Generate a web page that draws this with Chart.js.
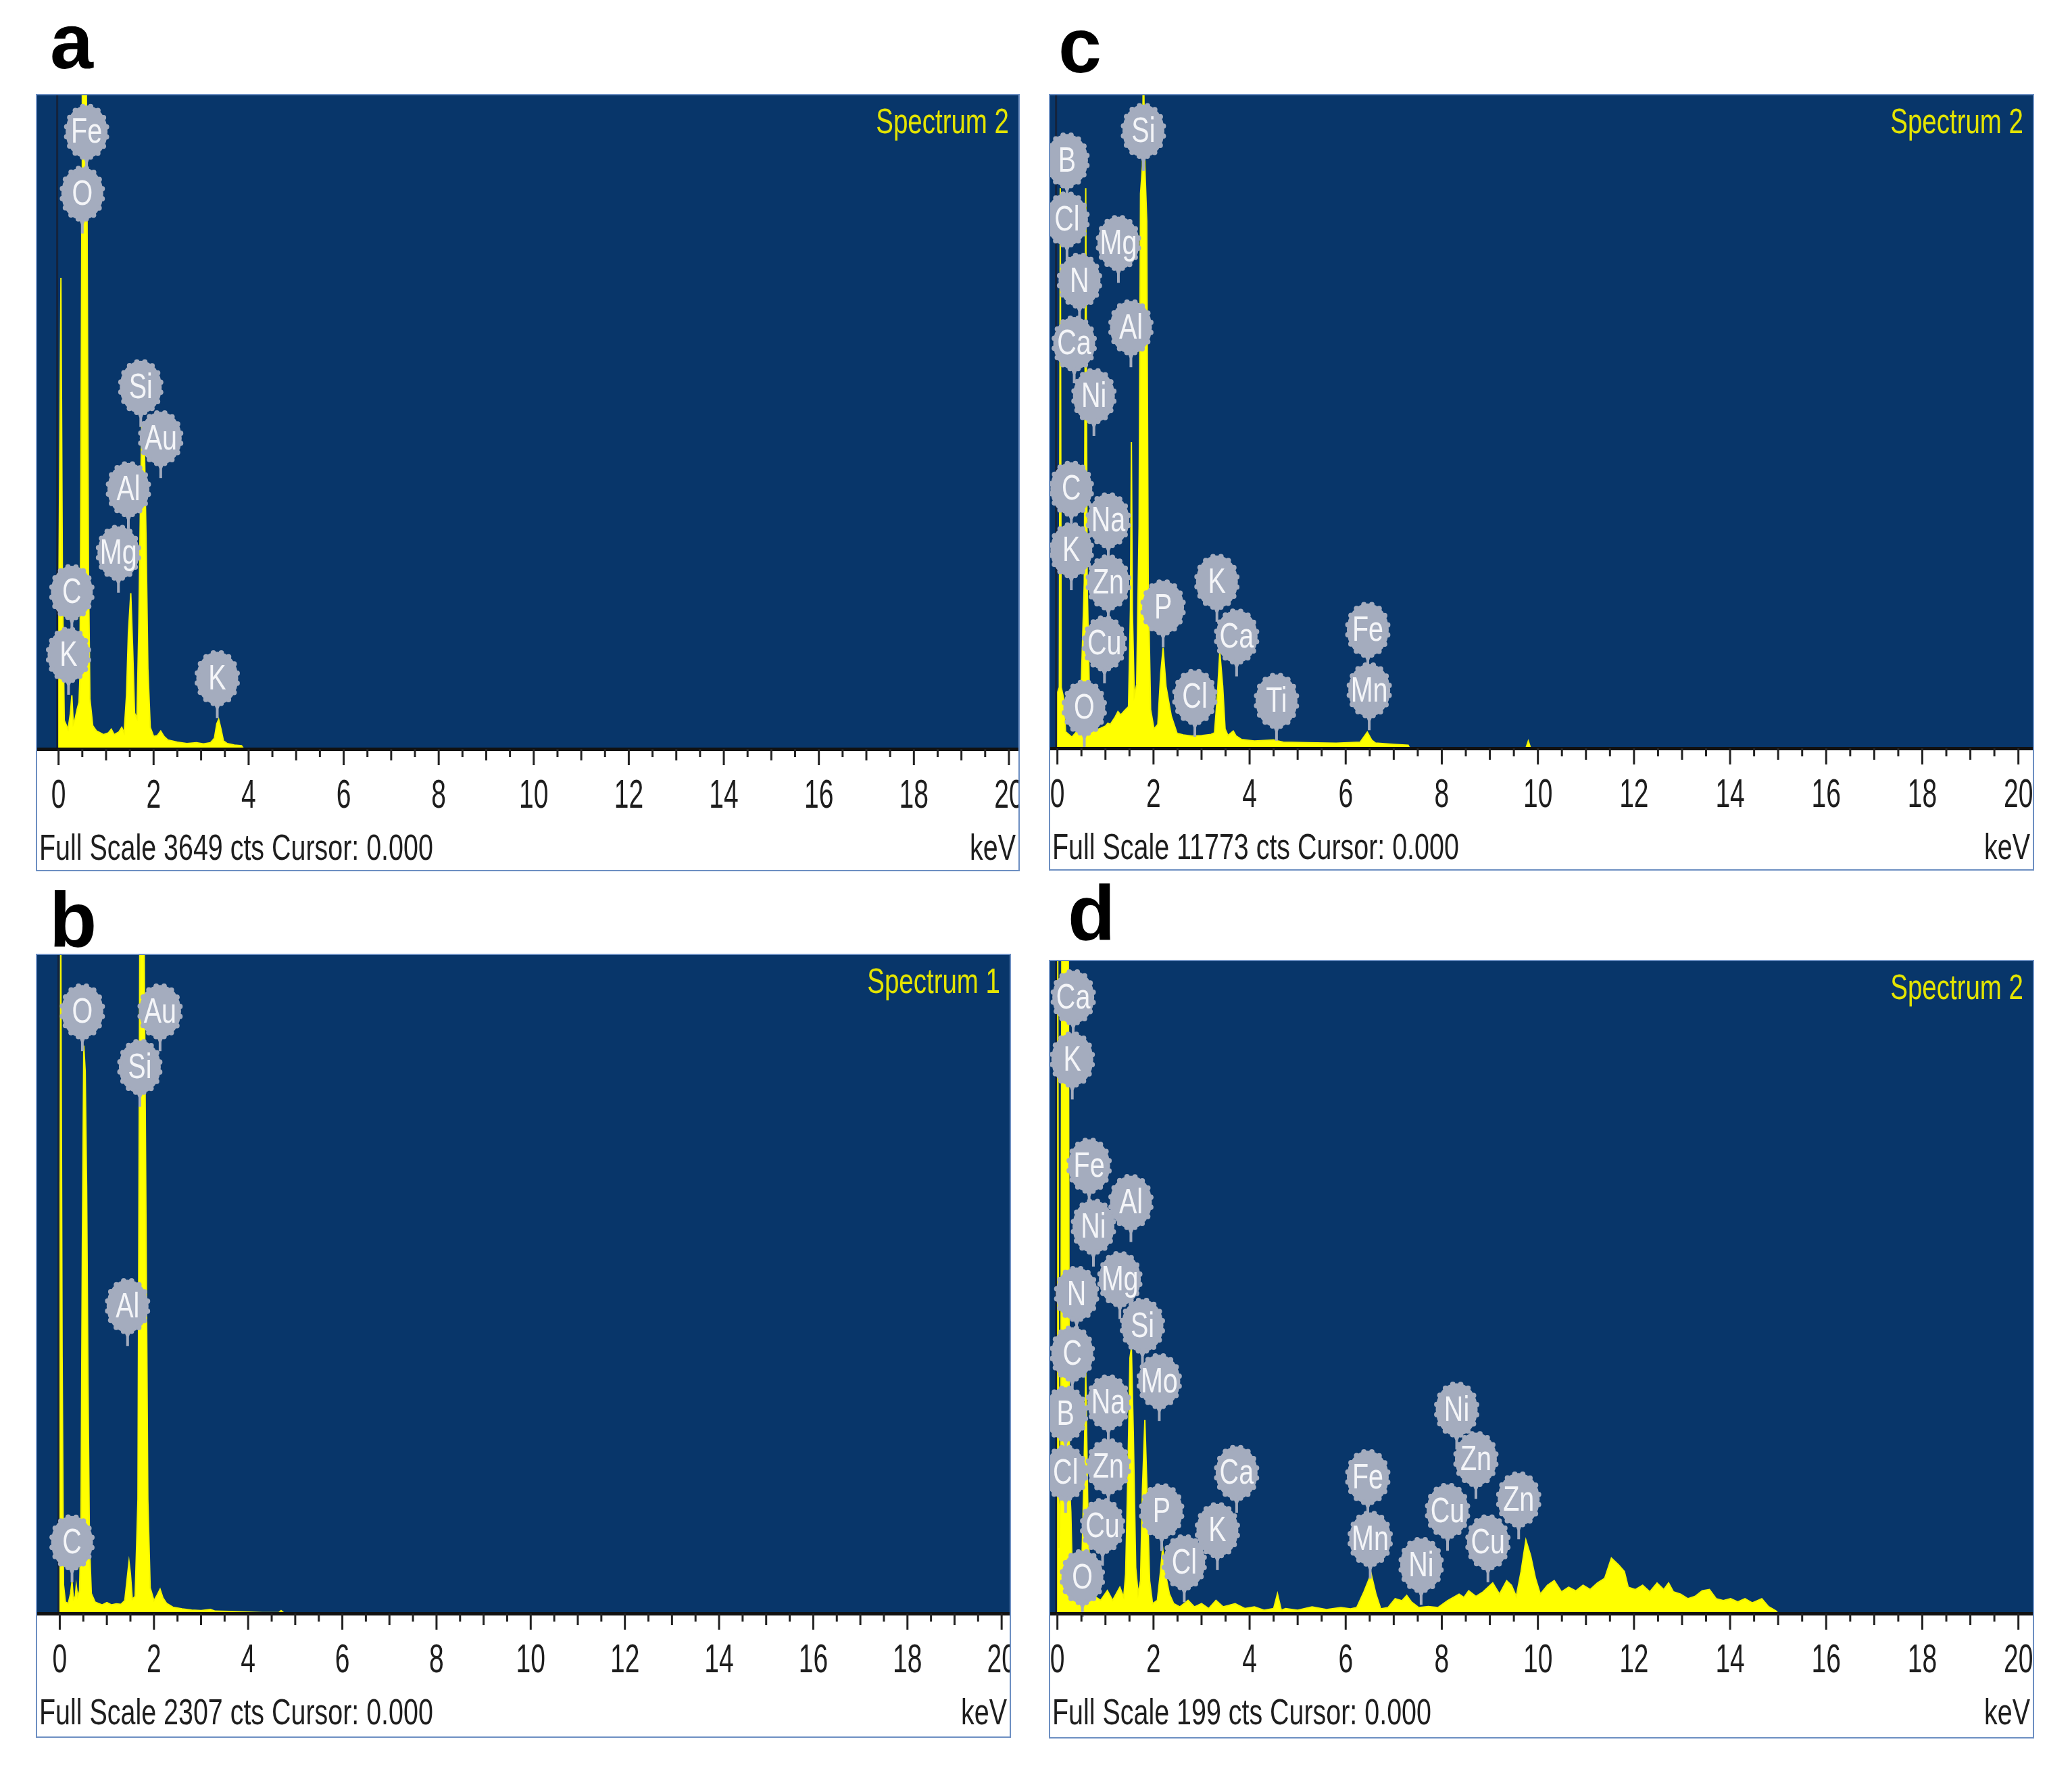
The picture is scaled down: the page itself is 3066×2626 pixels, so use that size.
<!DOCTYPE html>
<html>
<head>
<meta charset="utf-8">
<script src="https://cdn.jsdelivr.net/npm/chart.js@4.4.1/dist/chart.umd.min.js"></script>
<style>
body{margin:0;background:#fff;width:3066px;height:2626px;position:relative;overflow:hidden;font-family:"Liberation Sans",Arial,sans-serif}
.panel{position:absolute;border:2px solid #6d8fc2}
.panel canvas{display:block}
.letter{position:absolute;font-weight:bold;font-size:115px;line-height:1;color:#000}
</style>
</head>
<body>
<div class="letter" style="left:74px;top:4px">a</div>
<div class="letter" style="left:1566px;top:10px">c</div>
<div class="letter" style="left:73px;top:1304px">b</div>
<div class="letter" style="left:1580px;top:1294px">d</div>

<div class="panel" id="pa"><canvas id="ca"></canvas></div>
<div class="panel" id="pb"><canvas id="cb"></canvas></div>
<div class="panel" id="pc"><canvas id="cc"></canvas></div>
<div class="panel" id="pd"><canvas id="cd"></canvas></div>

<script>
// ---- data (keV, counts) ----
var keVTicks=[0,2,4,6,8,10,12,14,16,18,20];

// a
var energyA=[-0.02,0.02,0.05,0.08,0.12,0.2,0.25,0.28,0.31,0.35,0.39,0.43,0.45,0.47,0.49,0.5,0.58,0.6,0.63,0.66,0.72,0.8,0.95,1.05,1.11,1.17,1.27,1.33,1.38,1.43,1.47,1.52,1.56,1.6,1.65,1.69,1.72,1.75,1.8,1.84,1.88,1.93,2.0,2.08,2.15,2.22,2.3,2.5,2.7,2.9,3.05,3.2,3.28,3.33,3.37,3.42,3.47,3.55,3.7,3.85,3.9];
var countsA=[0,1400,2630,1000,160,110,200,300,140,170,220,260,400,1500,3000,4000,4000,3000,1000,280,130,100,80,90,110,80,95,120,90,300,650,870,560,200,170,700,1300,1800,1800,1200,450,120,70,75,100,70,50,38,30,35,28,35,60,140,165,110,45,30,22,18,0];
var peakNamesA=['Fe','O','Si','Au','Al','Mg','C','K','K'];
var peakKevA=[0.59,0.50,1.73,2.15,1.47,1.26,0.28,0.21,3.34];
var peakCtsA=[3445,3100,2020,1735,1450,1095,875,525,395];

// b
var energyB=[-0.02,0.0,0.02,0.05,0.08,0.12,0.18,0.23,0.26,0.29,0.33,0.35,0.38,0.42,0.45,0.48,0.51,0.54,0.57,0.6,0.63,0.67,0.75,0.9,1.0,1.1,1.2,1.3,1.38,1.43,1.47,1.5,1.54,1.6,1.66,1.7,1.79,1.83,1.87,1.92,2.0,2.07,2.13,2.19,2.27,2.4,2.6,2.8,3.0,3.2,3.3,3.6,4.0,4.3,4.65,4.7,4.75,4.8];
var countsB=[0,800,2500,900,100,40,35,70,113,50,60,98,60,80,300,1300,1990,1900,1500,800,250,70,40,30,38,30,34,32,45,120,181,140,50,60,400,2400,2400,1400,400,90,45,65,85,55,35,22,16,12,10,14,8,7,5,3,3,10,3,0];
var peakNamesB=['O','Au','Si','Al','C'];
var peakKevB=[0.48,2.13,1.70,1.44,0.26];
var peakCtsB=[2110,2110,1915,1077,249];

// c
var energyC=[-0.02,0.0,0.04,0.06,0.08,0.13,0.17,0.3,0.4,0.46,0.5,0.56,0.59,0.62,0.66,0.7,0.78,0.9,1.0,1.05,1.1,1.2,1.26,1.32,1.4,1.48,1.52,1.54,1.56,1.6,1.65,1.7,1.73,1.77,1.79,1.82,1.86,1.89,1.94,2.01,2.09,2.15,2.2,2.26,2.37,2.49,2.62,2.8,3.0,3.2,3.27,3.33,3.38,3.44,3.49,3.55,3.66,3.72,3.83,4.1,4.5,4.7,5.2,5.8,6.3,6.45,6.54,6.62,7.0,7.3,7.33,9.75,9.8,9.85];
var countsC=[0,1000,1100,10100,1100,900,300,200,300,900,1250,3000,10100,3000,1250,500,320,360,400,450,430,560,660,600,680,750,2500,5520,2500,950,1150,4000,10000,10500,12500,10500,9500,3000,700,350,430,1350,1810,1120,580,270,240,220,230,250,280,970,1740,1120,350,230,310,220,160,130,150,110,100,90,110,290,150,95,70,55,0,0,130,0];
var peakNamesC=['Si','B','Cl','Mg','N','Al','Ca','Ni','C','Na','K','Zn','K','P','Ca','Cu','Fe','Mn','Ti','Cl','O'];
var peakKevC=[1.79,0.2,0.2,1.27,0.46,1.53,0.35,0.76,0.29,1.06,0.29,1.06,3.32,2.2,3.73,0.98,6.46,6.49,4.56,2.86,0.56];
var peakCtsC=[11130,10600,9535,9110,8430,7590,7300,6350,4680,4110,3570,2990,3000,2540,2015,1890,2135,1045,855,925,730];

// d
var energyD=[-0.02,0.0,0.03,0.07,0.1,0.22,0.25,0.28,0.31,0.36,0.4,0.44,0.5,0.55,0.59,0.63,0.68,0.8,0.9,1.04,1.15,1.3,1.38,1.42,1.47,1.51,1.54,1.58,1.63,1.68,1.73,1.77,1.82,1.86,1.92,1.98,2.08,2.14,2.19,2.25,2.33,2.42,2.55,2.72,2.85,3.0,3.15,3.3,3.45,3.7,3.9,4.1,4.3,4.5,4.58,4.66,4.75,5.0,5.3,5.6,5.9,6.1,6.23,6.38,6.53,6.63,6.73,6.88,7.03,7.17,7.27,7.37,7.52,7.72,7.92,8.12,8.36,8.46,8.56,8.71,8.86,9.06,9.2,9.35,9.45,9.55,9.65,9.75,9.85,9.95,10.05,10.2,10.34,10.49,10.64,10.79,10.94,11.09,11.24,11.39,11.53,11.68,11.8,11.88,12.03,12.18,12.33,12.48,12.62,12.72,12.82,12.97,13.12,13.27,13.42,13.57,13.71,13.86,14.01,14.16,14.31,14.46,14.66,14.8,14.95,15.0];
var countsD=[0,260,20,40,260,260,40,31,12,10,18,8,10,40,74,35,8,5,4,7,4,8,5,12,45,78,81,55,14,6,10,38,59,40,10,3,4,12,20,12,6,3,2,4,2,3,1.5,4,2,3,1.5,2,1,1.5,6,1,1.5,1,2,1.2,1.8,1.4,1.8,6.6,12.1,5.9,1.4,1.8,4.5,3.9,5.5,3.5,1.8,2.1,1.8,3.9,5.9,4.9,6.9,5.2,6.6,9.3,5.9,10,8.6,5.2,12.8,22.4,17.6,10.7,5.9,8.6,10,6.6,8,6.9,8.6,7.3,9.3,10.7,16.9,14.8,12.8,8,7.3,8.6,6.6,9.3,7.3,9.3,6.6,5.9,4.5,5.2,6.9,7.3,4.5,3.9,4.5,3.5,4.5,3.2,4.5,2.1,0.8,0];
var peakNamesD=['Ca','K','Fe','Al','Ni','Mg','N','Si','C','Mo','Na','B','Zn','Cl','P','Cu','Ca','K','Cl','O','Fe','Mn','Ni','Zn','Cu','Zn','Ni','Cu'];
var peakKevD=[0.33,0.31,0.66,1.53,0.75,1.30,0.40,1.77,0.31,2.12,1.06,0.17,1.06,0.17,2.17,0.94,3.73,3.33,2.64,0.52,6.46,6.51,8.31,8.71,8.12,9.60,7.57,8.96];
var peakCtsD=[188,169,136.6,125.5,118,102,97.5,87.8,79.3,70.9,64.4,61,44.9,42.9,31.2,26.7,42.9,25.4,15.6,11.1,41.6,22.8,62.2,47.1,31.3,34.8,14.8,21.7];

var fullScaleA=3649, fullScaleB=2307, fullScaleC=11773, fullScaleD=199;

// ---- drawing helpers ----
var FONT='"Liberation Sans", Arial, sans-serif';

function squeezeText(ctx,str,x,y,size,sx,align,color,base){
    ctx.save();
    ctx.translate(x,y);
    ctx.scale(sx,1);
    ctx.font=size+'px '+FONT;
    ctx.textAlign=align;
    ctx.textBaseline=base||'alphabetic';
    ctx.fillStyle=color;
    ctx.fillText(str,0,0);
    ctx.restore();
}

function drawTag(ctx,cx,cy,name){
    var rx=31, ry=39;
    ctx.save();
    ctx.fillStyle='#a4acbe';
    ctx.beginPath();
    ctx.moveTo(cx-7,cy+ry-6);
    ctx.lineTo(cx+7,cy+ry-6);
    ctx.lineTo(cx+2,cy+ry+6);
    ctx.lineTo(cx-2,cy+ry+6);
    ctx.fill();
    ctx.fillRect(cx-2,cy+ry,4,20);
    ctx.beginPath();
    ctx.ellipse(cx,cy,rx,ry,0,0,Math.PI*2);
    ctx.fill();
    for(var i=0;i<16;i++){
        var t=i/16*Math.PI*2+0.2;
        ctx.beginPath();
        ctx.arc(cx+(rx-1)*Math.cos(t),cy+(ry-1)*Math.sin(t),4,0,Math.PI*2);
        ctx.fill();
    }
    ctx.restore();
    squeezeText(ctx,name,cx,cy+2,52,0.76,'center','#f4f5f8','middle');
}

function edsPlugin(cfg){
    return {
        id:'eds',
        beforeDraw:function(chart){
            var ctx=chart.ctx, a=chart.chartArea;
            ctx.save();
            ctx.fillStyle='#ffffff';
            ctx.fillRect(0,0,chart.width,chart.height);
            ctx.fillStyle='#08366a';
            ctx.fillRect(a.left,a.top,a.right-a.left,a.bottom-a.top);
            ctx.restore();
        },
        afterDatasetsDraw:function(chart){
            var ctx=chart.ctx, a=chart.chartArea, xs=chart.scales.x, ys=chart.scales.y;
            // cursor at 0.000
            var x0=xs.getPixelForValue(0);
            ctx.save();
            ctx.strokeStyle='#14233c';
            ctx.lineWidth=3;
            ctx.beginPath();ctx.moveTo(x0-2,a.top);ctx.lineTo(x0-2,a.bottom);ctx.stroke();
            ctx.restore();
            // element markers
            for(var i=0;i<cfg.names.length;i++){
                drawTag(ctx,xs.getPixelForValue(cfg.kev[i]),ys.getPixelForValue(cfg.cts[i]),cfg.names[i]);
            }
            squeezeText(ctx,cfg.title,a.right-14,a.top+42,52,0.74,'right','#e4e400','middle');
            // axis and ticks
            ctx.save();
            ctx.fillStyle='#111';
            ctx.fillRect(0,a.bottom-2,chart.width,5);
            ctx.strokeStyle='#222';
            ctx.lineWidth=3;
            for(var k=0;k<=40;k++){
                var v=k/2, px=xs.getPixelForValue(v);
                var len=(k%4===0)?24:((k%2===0)?17:12);
                ctx.beginPath();ctx.moveTo(px,a.bottom);ctx.lineTo(px,a.bottom+len);ctx.stroke();
            }
            ctx.restore();
            keVTicks.forEach(function(v){
                squeezeText(ctx,String(v),xs.getPixelForValue(v),a.bottom+70,60,0.65,'center','#1e1e1e','middle');
            });
            squeezeText(ctx,'Full Scale '+cfg.fullScale+' cts Cursor: 0.000',3,a.bottom+164,54,0.73,'left','#1e1e1e');
            squeezeText(ctx,'keV',chart.width-4,a.bottom+164,54,0.73,'right','#1e1e1e');
        }
    };
}

function makePanel(p){
    var box=document.getElementById(p.box);
    box.style.left=(p.left-2)+'px';
    box.style.top=(p.top-2)+'px';
    var cv=document.getElementById(p.canvas);
    cv.width=p.right-p.left;
    cv.height=p.bottom-p.top;
    var pts=p.energy.map(function(e,i){return {x:e,y:p.counts[i]};});
    new Chart(cv.getContext('2d'),{
        type:'line',
        data:{datasets:[{
            data:pts,
            fill:'origin',
            backgroundColor:'#ffff00',
            borderColor:'#f4f400',
            borderWidth:2,
            pointRadius:0,
            tension:0
        }]},
        options:{
            responsive:false,
            animation:false,
            devicePixelRatio:1,
            events:[],
            layout:{padding:{left:0,right:0,top:0,bottom:p.bottom-p.axis}},
            plugins:{legend:{display:false},tooltip:{enabled:false}},
            scales:{
                x:{type:'linear',min:p.xmin,max:p.xmax,display:false},
                y:{min:0,max:p.fullScale,display:false}
            }
        },
        plugins:[edsPlugin({names:p.names,kev:p.kev,cts:p.cts,title:p.title,fullScale:p.fullScale})]
    });
}

makePanel({box:'pa',canvas:'ca',left:55,top:141,right:1507,axis:1108,bottom:1287,xmin:-0.45,xmax:20.2,
    energy:energyA,counts:countsA,names:peakNamesA,kev:peakKevA,cts:peakCtsA,fullScale:fullScaleA,title:'Spectrum 2'});
makePanel({box:'pb',canvas:'cb',left:55,top:1413,right:1494,axis:2387,bottom:2569,xmin:-0.48,xmax:20.17,
    energy:energyB,counts:countsB,names:peakNamesB,kev:peakKevB,cts:peakCtsB,fullScale:fullScaleB,title:'Spectrum 1'});
makePanel({box:'pc',canvas:'cc',left:1554,top:141,right:3008,axis:1107,bottom:1286,xmin:-0.15,xmax:20.3,
    energy:energyC,counts:countsC,names:peakNamesC,kev:peakKevC,cts:peakCtsC,fullScale:fullScaleC,title:'Spectrum 2'});
makePanel({box:'pd',canvas:'cd',left:1554,top:1422,right:3008,axis:2387,bottom:2570,xmin:-0.15,xmax:20.3,
    energy:energyD,counts:countsD,names:peakNamesD,kev:peakKevD,cts:peakCtsD,fullScale:fullScaleD,title:'Spectrum 2'});
</script>
</body>
</html>
